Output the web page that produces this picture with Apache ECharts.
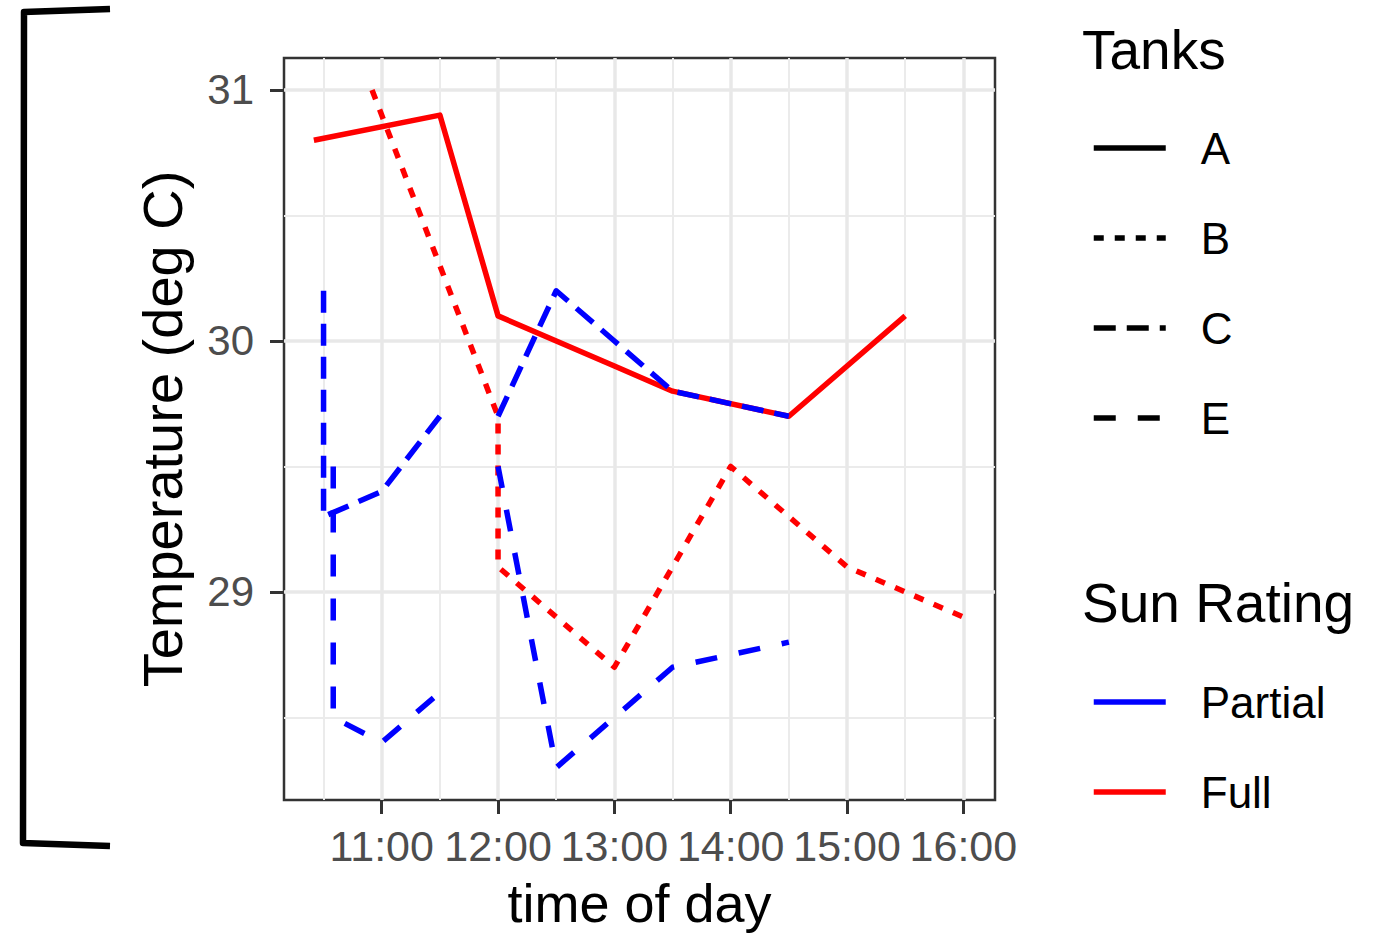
<!DOCTYPE html>
<html>
<head>
<meta charset="utf-8">
<title>Temperature by time of day</title>
<script src="https://cdn.jsdelivr.net/npm/echarts@6/dist/echarts.min.js"></script>
<style>
  html, body { margin: 0; padding: 0; background: #fff; }
  #chart { width: 1386px; height: 937px; }
</style>
</head>
<body>
<div id="chart"></div>
<script>
// time of day in hours (10.5 = 10:30), temperature in deg C
var tankA_full = [[10.4167, 30.8], [11.5, 30.9], [12, 30.1], [13, 29.9], [13.5, 29.8], [14.5, 29.7], [15.5, 30.1]];
var tankB_full = [[10.9167, 31.0], [12, 29.7], [12, 29.1], [13, 28.7], [14, 29.5], [15, 29.1], [16, 28.9]];
var tankC_partial_am = [[10.5, 30.2], [10.5, 29.3], [11, 29.4], [11.5, 29.7]];
var tankC_partial_pm = [[12, 29.7], [12.5, 30.2], [13, 30.0], [13.5, 29.8], [14.5, 29.7]];
var tankE_partial_am = [[10.5833, 29.5], [10.5833, 28.5], [11, 28.4], [11.5, 28.6]];
var tankE_partial_pm = [[12, 29.5], [12.5, 28.3], [13.5, 28.7], [14.5, 28.8]];

var hourTicks = [11, 12, 13, 14, 15, 16];
var tempTicks = [29, 30, 31];
var tankNames = ['A', 'B', 'C', 'E'];
var sunNames = ['Partial', 'Full'];

var FONT = "'Liberation Sans', Arial, Helvetica, sans-serif";
var RED = '#ff0000';
var BLUE = '#0000ff';
// linetype per tank
var dashes = { A: 'solid', B: [10, 11], C: [22, 11], E: [22, 22] };

var chart = echarts.init(document.getElementById('chart'), null, { renderer: 'svg' });

function tankLine(name, tank, color, data) {
  return {
    name: name,
    type: 'line',
    data: data,
    symbol: 'none',
    silent: true,
    lineStyle: { color: color, width: 5.5, type: dashes[tank], cap: 'butt', join: 'round' }
  };
}

// empty series only used to feed the two legends
var legendSeries = [];
tankNames.forEach(function (t) {
  legendSeries.push({ name: t, type: 'line', data: [], symbol: 'none',
    lineStyle: { color: '#000', width: 5.5, type: dashes[t] } });
});
legendSeries.push({ name: 'Partial', type: 'line', data: [], symbol: 'none', lineStyle: { color: BLUE, width: 5.5 } });
legendSeries.push({ name: 'Full', type: 'line', data: [], symbol: 'none', lineStyle: { color: RED, width: 5.5 } });

var legendCommon = {
  orient: 'vertical',
  left: 1091,
  padding: 0,
  itemWidth: 72,
  itemHeight: 14,
  itemGap: 40,
  selectedMode: false,
  itemStyle: { opacity: 0 },
  lineStyle: { width: 5.5 },
  textStyle: { fontFamily: FONT, fontSize: 44, color: '#000', lineHeight: 50, padding: [0, 0, 0, 30] }
};

var option = {
  animation: false,
  backgroundColor: '#fff',
  title: [
    { text: 'Tanks', left: 1082, top: 20, padding: 0,
      textStyle: { fontFamily: FONT, fontSize: 55, fontWeight: 'normal', color: '#000', lineHeight: 60 } },
    { text: 'Sun Rating', left: 1082, top: 573, padding: 0,
      textStyle: { fontFamily: FONT, fontSize: 55, fontWeight: 'normal', color: '#000', lineHeight: 60 } }
  ],
  legend: [
    Object.assign({}, legendCommon, { top: 123, data: tankNames }),
    Object.assign({}, legendCommon, { top: 677, data: sunNames })
  ],
  grid: {
    left: 284, right: 391, top: 58, bottom: 137,
    show: true, borderColor: '#333333', borderWidth: 2.5,
    containLabel: false, outerBoundsMode: 'none'
  },
  xAxis: {
    type: 'value',
    min: 10.16, max: 16.272,
    splitNumber: 6,
    name: 'time of day',
    nameLocation: 'middle',
    nameGap: 76,
    nameMoveOverlap: false,
    nameTextStyle: { fontFamily: FONT, fontSize: 54, color: '#000', lineHeight: 54 },
    axisLine: { show: false },
    axisTick: { show: true, customValues: hourTicks, length: 14, lineStyle: { color: '#333', width: 3 } },
    axisLabel: {
      customValues: hourTicks, margin: 22,
      fontFamily: FONT, fontSize: 43, color: '#4d4d4d', lineHeight: 48,
      formatter: function (v) { return v + ':00'; }
    },
    splitLine: { show: true, lineStyle: { color: '#e8e8e8', width: 3.5 } },
    minorTick: { show: false, splitNumber: 2 },
    minorSplitLine: { show: true, lineStyle: { color: '#ebebeb', width: 2 } }
  },
  yAxis: {
    type: 'value',
    min: 28.171, max: 31.1275,
    splitNumber: 3,
    name: 'Temperature (deg C)',
    nameLocation: 'middle',
    nameGap: 92,
    nameMoveOverlap: false,
    nameTextStyle: { fontFamily: FONT, fontSize: 56, color: '#000', lineHeight: 60 },
    axisLine: { show: false },
    axisTick: { show: true, customValues: tempTicks, length: 14, lineStyle: { color: '#333', width: 3 } },
    axisLabel: {
      customValues: tempTicks, margin: 30,
      fontFamily: FONT, fontSize: 42, color: '#4d4d4d'
    },
    splitLine: { show: true, lineStyle: { color: '#e8e8e8', width: 3.5 } },
    minorTick: { show: false, splitNumber: 2 },
    minorSplitLine: { show: true, lineStyle: { color: '#ebebeb', width: 2 } }
  },
  graphic: [{
    // hand-drawn bracket on the left side of the figure
    type: 'polyline',
    silent: true,
    shape: { points: [[110, 9], [24, 12], [23, 843], [110, 846]] },
    style: { fill: null, stroke: '#000', lineWidth: 6.5, lineJoin: 'round' }
  }],
  series: legendSeries.concat([
    tankLine('A-Full', 'A', RED, tankA_full),
    tankLine('B-Full', 'B', RED, tankB_full),
    tankLine('C-Partial-1', 'C', BLUE, tankC_partial_am),
    tankLine('C-Partial-2', 'C', BLUE, tankC_partial_pm),
    tankLine('E-Partial-1', 'E', BLUE, tankE_partial_am),
    tankLine('E-Partial-2', 'E', BLUE, tankE_partial_pm)
  ])
};

chart.setOption(option);
</script>
</body>
</html>
